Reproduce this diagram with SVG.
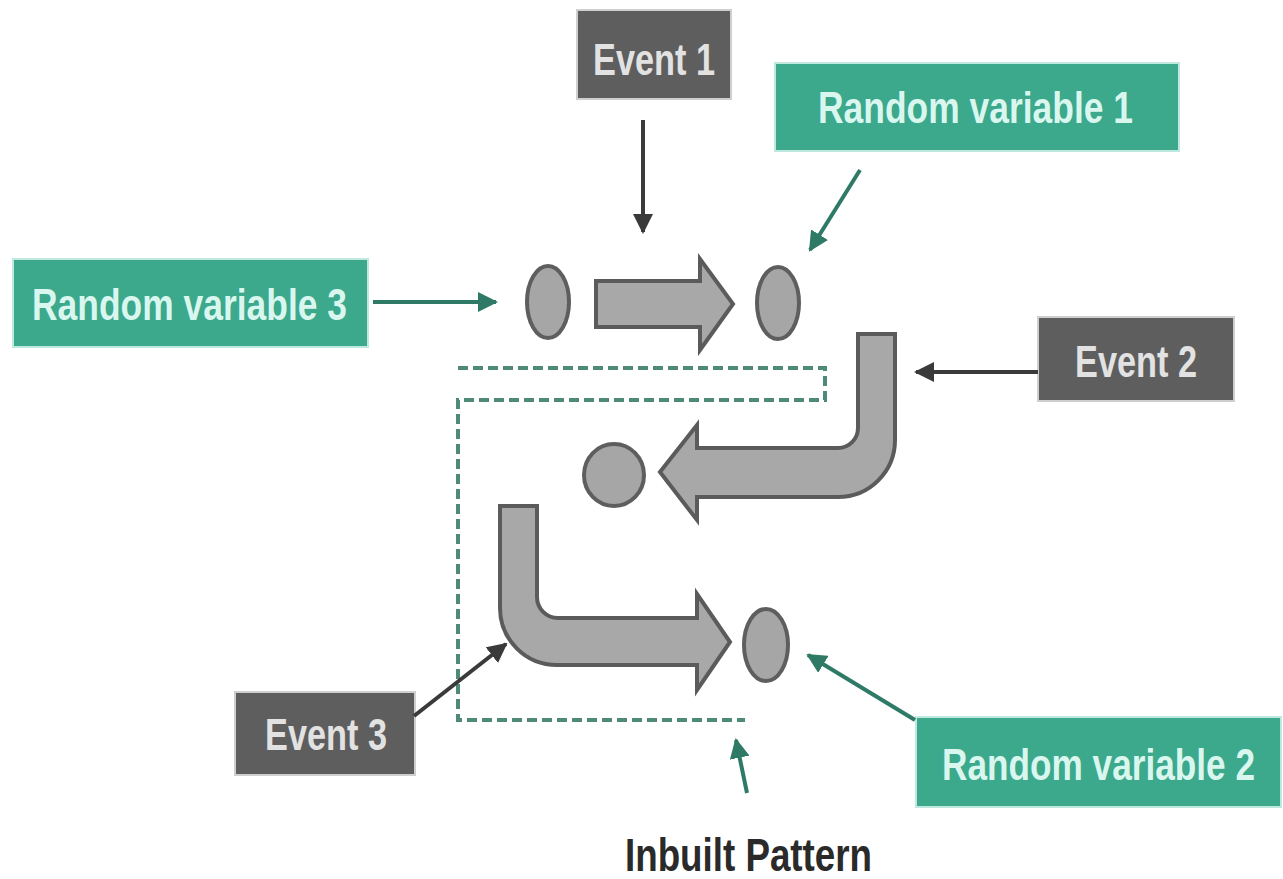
<svg xmlns="http://www.w3.org/2000/svg" width="1283" height="879" viewBox="0 0 1283 879">
<style>
.ev{fill:#5e5e5e;stroke:#cfcfcf;stroke-width:2}
.rv{fill:#3ca88c;stroke:#bfe9de;stroke-width:2}
.evt{font-family:"Liberation Sans",Arial,sans-serif;font-size:44px;font-weight:bold;fill:#e2e2e2}
.rvt{font-family:"Liberation Sans",Arial,sans-serif;font-size:44px;font-weight:bold;fill:#d9f7ee}
.lbl{font-family:"Liberation Sans",Arial,sans-serif;font-size:47px;font-weight:bold;fill:#2a2a2a}
.shape{fill:#a8a8a8;stroke:#5b5b5b;stroke-width:4;stroke-linejoin:miter}
.dot{fill:#a6a6a6;stroke:#5e5e5e;stroke-width:4}
.cd{stroke:#3a3a3a;stroke-width:4;fill:none}
.ct{stroke:#2f7a67;stroke-width:4;fill:none}
.dash{stroke:#4e8a7a;stroke-width:4;fill:none;stroke-dasharray:10 5}
</style>
<defs>
<marker id="ad" viewBox="0 0 10 10" refX="9" refY="5" markerWidth="5" markerHeight="5" orient="auto" markerUnits="strokeWidth"><path d="M0,0 L10,5 L0,10 z" fill="#3a3a3a"/></marker>
<marker id="at" viewBox="0 0 10 10" refX="9" refY="5" markerWidth="5" markerHeight="5" orient="auto" markerUnits="strokeWidth"><path d="M0,0 L10,5 L0,10 z" fill="#2f7a67"/></marker>
</defs>
<rect width="1283" height="879" fill="#ffffff"/>

<g id="pattern">
<path class="dash" d="M458,368 H825 V400 H458 V720 H745"/>
</g>

<g id="shapes">
<ellipse id="dot1" class="dot" cx="548" cy="302" rx="21" ry="36"/>
<ellipse id="dot2" class="dot" cx="778" cy="303" rx="21" ry="36"/>
<ellipse id="dot3" class="dot" cx="614" cy="475" rx="30" ry="31"/>
<ellipse id="dot4" class="dot" cx="766" cy="645" rx="22" ry="36"/>
<path id="arrowRight" class="shape" d="M596,281 H700 V259 L733,304 L700,350 V327 H596 Z"/>
<path id="arrowUturn" class="shape" d="M858,334 H895 V440 A57,57 0 0 1 838,497 H697 V520 L660,472 L697,425 V448 H838 A20,20 0 0 0 858,428 Z"/>
<path id="arrowLturn" class="shape" d="M500,506 H537 V597 A21,21 0 0 0 558,618 H697 V594 L730,642 L697,690 V665 H557 A57,57 0 0 1 500,608 Z"/>
</g>

<g id="event1">
<rect class="ev" x="577" y="10" width="154" height="89"/>
<text class="evt" x="593" y="75" textLength="122" lengthAdjust="spacingAndGlyphs">Event 1</text>
</g>
<g id="rv1">
<rect class="rv" x="775" y="63" width="404" height="88"/>
<text class="rvt" x="818" y="123" textLength="315" lengthAdjust="spacingAndGlyphs">Random variable 1</text>
</g>
<g id="rv3">
<rect class="rv" x="13" y="259" width="355" height="88"/>
<text class="rvt" x="32" y="320" textLength="315" lengthAdjust="spacingAndGlyphs">Random variable 3</text>
</g>
<g id="event2">
<rect class="ev" x="1038" y="317" width="196" height="84"/>
<text class="evt" x="1075" y="377" textLength="122" lengthAdjust="spacingAndGlyphs">Event 2</text>
</g>
<g id="event3">
<rect class="ev" x="235" y="692" width="180" height="83"/>
<text class="evt" x="265" y="750" textLength="122" lengthAdjust="spacingAndGlyphs">Event 3</text>
</g>
<g id="rv2">
<rect class="rv" x="916" y="717" width="365" height="90"/>
<text class="rvt" style="font-size:35px" transform="translate(942,780) scale(1,1.257)" x="0" y="0" textLength="313" lengthAdjust="spacingAndGlyphs">Random variable 2</text>
</g>
<g id="inbuilt">
<text class="lbl" x="625" y="871" textLength="247" lengthAdjust="spacingAndGlyphs">Inbuilt Pattern</text>
</g>

<g id="connectors">
<line class="cd" x1="643" y1="120" x2="643" y2="232" marker-end="url(#ad)"/>
<line class="ct" x1="860" y1="170" x2="810" y2="250" marker-end="url(#at)"/>
<line class="ct" x1="373" y1="302" x2="496" y2="302" marker-end="url(#at)"/>
<line class="cd" x1="1038" y1="372" x2="916" y2="372" marker-end="url(#ad)"/>
<line class="cd" x1="414" y1="716" x2="506" y2="644" marker-end="url(#ad)"/>
<line class="ct" x1="915" y1="720" x2="808" y2="655" marker-end="url(#at)"/>
<line class="ct" x1="747" y1="793" x2="736" y2="740" marker-end="url(#at)"/>
</g>
</svg>
